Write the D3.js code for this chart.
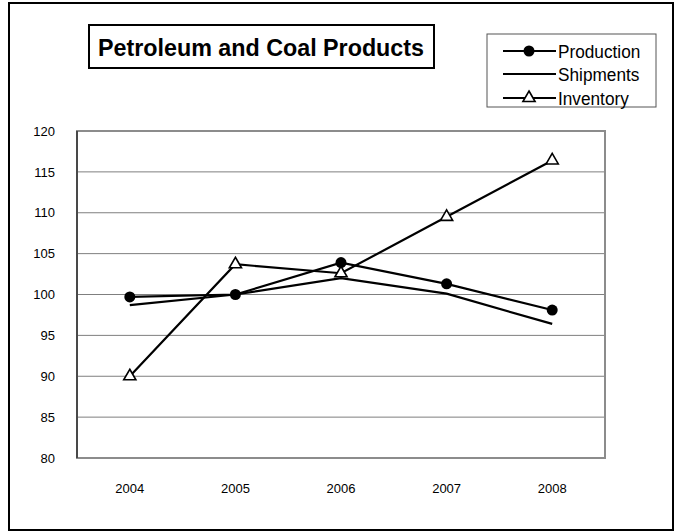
<!DOCTYPE html>
<html>
<head>
<meta charset="utf-8">
<script src="https://cdn.jsdelivr.net/npm/d3@7"></script>
<style>
  body { margin: 0; background: #fff; }
  text { font-family: "Liberation Sans", Arial, sans-serif; fill: #000; }
</style>
</head>
<body>
<script>
var years = ["2004", "2005", "2006", "2007", "2008"];
var production = [99.7, 100.0, 103.9, 101.3, 98.1];
var shipments = [98.7, 100.0, 102.0, 100.1, 96.4];
var inventory = [90.0, 103.7, 102.6, 109.5, 116.4];
var yTicks = [80, 85, 90, 95, 100, 105, 110, 115, 120];
var seriesNames = ["Production", "Shipments", "Inventory"];
var markers = ["circle", "none", "triangle"];

var svg = d3.select("body").append("svg")
    .attr("width", 681)
    .attr("height", 532);

// outer frame
svg.append("rect")
    .attr("x", 9).attr("y", 3)
    .attr("width", 664).attr("height", 527)
    .attr("fill", "#fff").attr("stroke", "#000").attr("stroke-width", 2);

var plotLeft = 77, plotRight = 605, plotTop = 131, plotBottom = 458;

var x = d3.scaleBand().domain(years).range([plotLeft, plotRight]);
var y = d3.scaleLinear().domain([80, 120]).range([plotBottom, plotTop]);

// gridlines
svg.append("g").selectAll("line")
    .data(yTicks.slice(1, -1))
    .enter().append("line")
    .attr("x1", plotLeft).attr("x2", plotRight)
    .attr("y1", function (d) { return y(d); })
    .attr("y2", function (d) { return y(d); })
    .attr("stroke", "#7f7f7f").attr("stroke-width", 1);

// plot area border
svg.append("rect")
    .attr("x", plotLeft).attr("y", plotTop)
    .attr("width", plotRight - plotLeft).attr("height", plotBottom - plotTop)
    .attr("fill", "none").attr("stroke", "#8c8c8c").attr("stroke-width", 2);
svg.append("path")
    .attr("d", "M" + plotLeft + "," + plotTop + "V" + plotBottom)
    .attr("stroke", "#333").attr("stroke-width", 1.5);

// y axis labels
var yAxis = d3.axisLeft(y).tickValues(yTicks).tickSize(0).tickPadding(22);
svg.append("g")
    .attr("transform", "translate(" + plotLeft + ",0)")
    .call(yAxis)
    .call(function (g) { g.select(".domain").remove(); })
    .selectAll("text")
    .style("font-family", "Liberation Sans, Arial, sans-serif")
    .style("font-size", "13px");

// x axis labels
var xAxis = d3.axisBottom(x).tickSize(0).tickPadding(26);
svg.append("g")
    .attr("transform", "translate(0," + plotBottom + ")")
    .call(xAxis)
    .call(function (g) { g.select(".domain").remove(); })
    .selectAll("text")
    .style("font-family", "Liberation Sans, Arial, sans-serif")
    .style("font-size", "13px");

var cx = function (i) { return x(years[i]) + x.bandwidth() / 2; };
var line = d3.line()
    .x(function (d, i) { return cx(i); })
    .y(function (d) { return y(d); });

var allSeries = [production, shipments, inventory];
var tri = d3.symbol().type(d3.symbolTriangle).size(64);

allSeries.forEach(function (data, s) {
  svg.append("path")
      .attr("d", line(data))
      .attr("fill", "none")
      .attr("stroke", "#000")
      .attr("stroke-width", 2.2);
});

allSeries.forEach(function (data, s) {
  if (markers[s] === "circle") {
    svg.append("g").selectAll("circle")
        .data(data).enter().append("circle")
        .attr("cx", function (d, i) { return cx(i); })
        .attr("cy", function (d) { return y(d); })
        .attr("r", 5.5)
        .attr("fill", "#000");
  } else if (markers[s] === "triangle") {
    svg.append("g").selectAll("path")
        .data(data).enter().append("path")
        .attr("d", tri)
        .attr("transform", function (d, i) { return "translate(" + cx(i) + "," + y(d) + ")"; })
        .attr("fill", "#fff")
        .attr("stroke", "#000")
        .attr("stroke-width", 1.6);
  }
});

// title box
svg.append("rect")
    .attr("x", 89).attr("y", 25)
    .attr("width", 345).attr("height", 43)
    .attr("fill", "#fff").attr("stroke", "#000").attr("stroke-width", 2);
svg.append("text")
    .attr("x", 261).attr("y", 56)
    .attr("text-anchor", "middle")
    .style("font-size", "23px")
    .style("font-weight", "bold")
    .attr("textLength", 326)
    .attr("lengthAdjust", "spacingAndGlyphs")
    .text("Petroleum and Coal Products");

// legend
svg.append("rect")
    .attr("x", 487).attr("y", 34)
    .attr("width", 169).attr("height", 73)
    .attr("fill", "#fff").attr("stroke", "#555").attr("stroke-width", 1);

var legendY = [51, 74, 98];
seriesNames.forEach(function (name, s) {
  var g = svg.append("g").attr("transform", "translate(0," + legendY[s] + ")");
  g.append("line")
      .attr("x1", 503).attr("x2", 556)
      .attr("stroke", "#000").attr("stroke-width", 2.2);
  if (markers[s] === "circle") {
    g.append("circle").attr("cx", 529).attr("r", 5.5).attr("fill", "#000");
  } else if (markers[s] === "triangle") {
    g.append("path").attr("d", tri)
        .attr("transform", "translate(529,0)")
        .attr("fill", "#fff").attr("stroke", "#000").attr("stroke-width", 1.6);
  }
  var t = g.append("text")
      .attr("x", 558).attr("y", 7)
      .style("font-size", "18px")
      .text(name);
  var w = t.node().getComputedTextLength();
  t.attr("textLength", w * 88 / 92)
      .attr("lengthAdjust", "spacingAndGlyphs");
});
</script>
</body>
</html>
